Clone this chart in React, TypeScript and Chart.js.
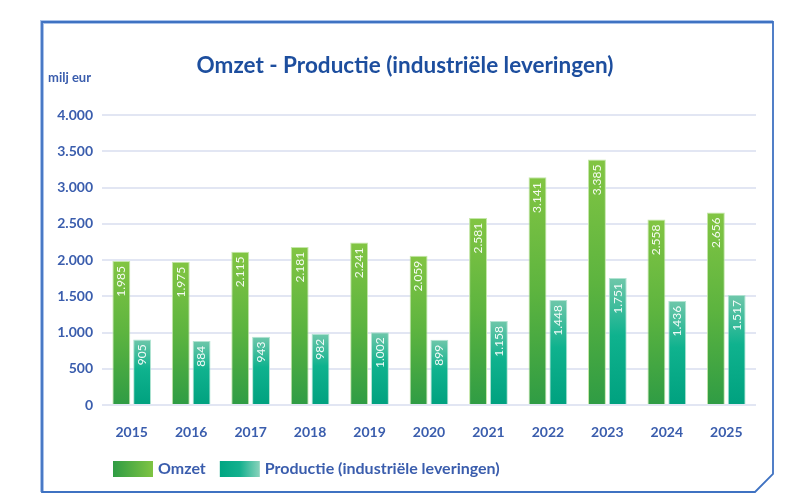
import { useEffect, useRef } from "react";
import { Chart, registerables } from "chart.js";

Chart.register(...registerables);

// Omzet en productie per jaar, in miljoen euro
const years = ["2015", "2016", "2017", "2018", "2019", "2020", "2021", "2022", "2023", "2024", "2025"];
const omzet = [1985, 1975, 2115, 2181, 2241, 2059, 2581, 3141, 3385, 2558, 2656];
const productie = [905, 884, 943, 982, 1002, 899, 1158, 1448, 1751, 1436, 1517];
const seriesNames = ["Omzet", "Productie (industriële leveringen)"];
const yMin = 0;
const yMax = 4000;
const yStep = 500;
const titleText = "Omzet - Productie (industriële leveringen)";
const unitText = "milj eur";

const BLUE_TEXT = "#3a5dad";
const TITLE_BLUE = "#1d4e9e";
const FONT = "Lato, 'Open Sans', sans-serif";

// dutch thousands separator
const fmt = (v: number) => String(v).replace(/\B(?=(\d{3})+(?!\d))/g, ".");

type Stop = [number, string];
const omzetStops: Stop[] = [
  [0, "#82c543"],
  [0.5, "#5db43f"],
  [1, "#2f9c44"],
];
const productieStops: Stop[] = [
  [0, "#6fc7aa"],
  [0.45, "#0fb28e"],
  [1, "#00a17f"],
];

// vertical gradient spanning each bar from its top to the baseline
function barFill(stops: Stop[]) {
  return (ctx: any) => {
    const chart = ctx.chart;
    const y = chart.scales?.y;
    if (!chart.chartArea || !y || ctx.type !== "data") return stops[1][1];
    const top = y.getPixelForValue(ctx.raw);
    const bottom = y.getPixelForValue(0);
    const g = chart.ctx.createLinearGradient(0, top, 0, bottom);
    stops.forEach(([o, c]) => g.addColorStop(o, c));
    return g;
  };
}

// outer frame with cut-off bottom right corner
const framePlugin = {
  id: "frame",
  beforeDraw(chart: any) {
    const { ctx } = chart;
    const L = 42, T = 22, R = 773, B = 492, cut = 18;
    ctx.save();
    ctx.strokeStyle = "#a9c2ea";
    ctx.lineWidth = 4;
    ctx.beginPath();
    ctx.moveTo(L, B);
    ctx.lineTo(L, T);
    ctx.lineTo(R, T);
    ctx.stroke();
    ctx.strokeStyle = "#3f72c2";
    ctx.lineWidth = 1.8;
    ctx.beginPath();
    ctx.moveTo(L, T);
    ctx.lineTo(R, T);
    ctx.lineTo(R, B - cut);
    ctx.lineTo(R - cut, B);
    ctx.lineTo(L, B);
    ctx.closePath();
    ctx.stroke();
    ctx.restore();
  },
};

// title and unit caption
const headerPlugin = {
  id: "header",
  afterDraw(chart: any) {
    const { ctx } = chart;
    ctx.save();
    ctx.fillStyle = TITLE_BLUE;
    ctx.font = `bold 22.5px ${FONT}`;
    ctx.textAlign = "center";
    ctx.textBaseline = "middle";
    ctx.fillText(titleText, 405, 66);
    ctx.fillStyle = BLUE_TEXT;
    ctx.font = `bold 13px ${FONT}`;
    ctx.textAlign = "left";
    ctx.fillText(unitText, 48, 78);
    ctx.restore();
  },
};

// rotated value labels just inside the top of each bar
const valueLabelPlugin = {
  id: "valueLabels",
  afterDatasetsDraw(chart: any) {
    const { ctx } = chart;
    ctx.save();
    ctx.fillStyle = "rgba(255,255,255,0.93)";
    ctx.font = `12px ${FONT}`;
    ctx.textAlign = "right";
    ctx.textBaseline = "middle";
    chart.data.datasets.forEach((ds: any, di: number) => {
      const meta = chart.getDatasetMeta(di);
      meta.data.forEach((bar: any, i: number) => {
        ctx.save();
        ctx.translate(bar.x, bar.y + 5);
        ctx.rotate(-Math.PI / 2);
        ctx.fillText(fmt(ds.data[i]), 0, 0);
        ctx.restore();
      });
    });
    ctx.restore();
  },
};

// legend with horizontal gradient swatches
const legendStops: Stop[][] = [
  [
    [0, "#2f9c44"],
    [1, "#7fc443"],
  ],
  [
    [0, "#00a682"],
    [0.5, "#14b08e"],
    [1, "#8ad3bc"],
  ],
];
const legendPlugin = {
  id: "customLegend",
  afterDraw(chart: any) {
    const { ctx, chartArea } = chart;
    const boxW = 40, boxH = 16, yMid = 469;
    let x = chartArea.left + 11;
    ctx.save();
    ctx.font = `bold 16px ${FONT}`;
    ctx.textBaseline = "middle";
    ctx.textAlign = "left";
    chart.data.datasets.forEach((ds: any, di: number) => {
      const g = ctx.createLinearGradient(x, 0, x + boxW, 0);
      legendStops[di].forEach(([o, c]) => g.addColorStop(o, c));
      ctx.fillStyle = g;
      ctx.fillRect(x, yMid - boxH / 2, boxW, boxH);
      x += boxW + 5;
      ctx.fillStyle = BLUE_TEXT;
      ctx.fillText(ds.label, x, yMid);
      x += ctx.measureText(ds.label).width + 14;
    });
    ctx.restore();
  },
};

export default function App() {
  const canvasRef = useRef<HTMLCanvasElement | null>(null);

  useEffect(() => {
    if (!canvasRef.current) return;
    const chart = new Chart(canvasRef.current, {
      type: "bar",
      data: {
        labels: years,
        datasets: [
          {
            label: seriesNames[0],
            data: omzet,
            backgroundColor: barFill(omzetStops),
            borderColor: "rgba(190,228,160,0.9)",
            borderWidth: 1,
            barPercentage: 0.86,
            categoryPercentage: 0.7,
          },
          {
            label: seriesNames[1],
            data: productie,
            backgroundColor: barFill(productieStops),
            borderColor: "rgba(170,225,205,0.9)",
            borderWidth: 1,
            barPercentage: 0.86,
            categoryPercentage: 0.7,
          },
        ],
      },
      options: {
        animation: false,
        responsive: true,
        maintainAspectRatio: false,
        layout: { padding: { left: 40, right: 44, top: 115, bottom: 56 } },
        plugins: {
          legend: { display: false },
          title: { display: false },
          tooltip: { enabled: false },
        },
        scales: {
          x: {
            grid: { display: false, drawTicks: false },
            border: { display: false },
            ticks: {
              color: BLUE_TEXT,
              font: { family: FONT, size: 14, weight: "bold" },
              padding: 19,
            },
            afterFit(scale: any) {
              scale.height = 40;
            },
          },
          y: {
            min: yMin,
            max: yMax,
            grid: { color: "#e2e6f3", lineWidth: 2, drawTicks: false },
            border: { display: false },
            ticks: {
              stepSize: yStep,
              color: BLUE_TEXT,
              font: { family: FONT, size: 14, weight: "bold" },
              padding: 9,
              callback: (v: any) => fmt(Number(v)),
            },
            afterFit(scale: any) {
              scale.width = 62;
            },
          },
        },
      },
      plugins: [framePlugin, headerPlugin, valueLabelPlugin, legendPlugin],
    });
    return () => chart.destroy();
  }, []);

  return (
    <div style={{ position: "fixed", left: 0, top: 0, width: 800, height: 501, background: "#fff" }}>
      <canvas ref={canvasRef} />
    </div>
  );
}
